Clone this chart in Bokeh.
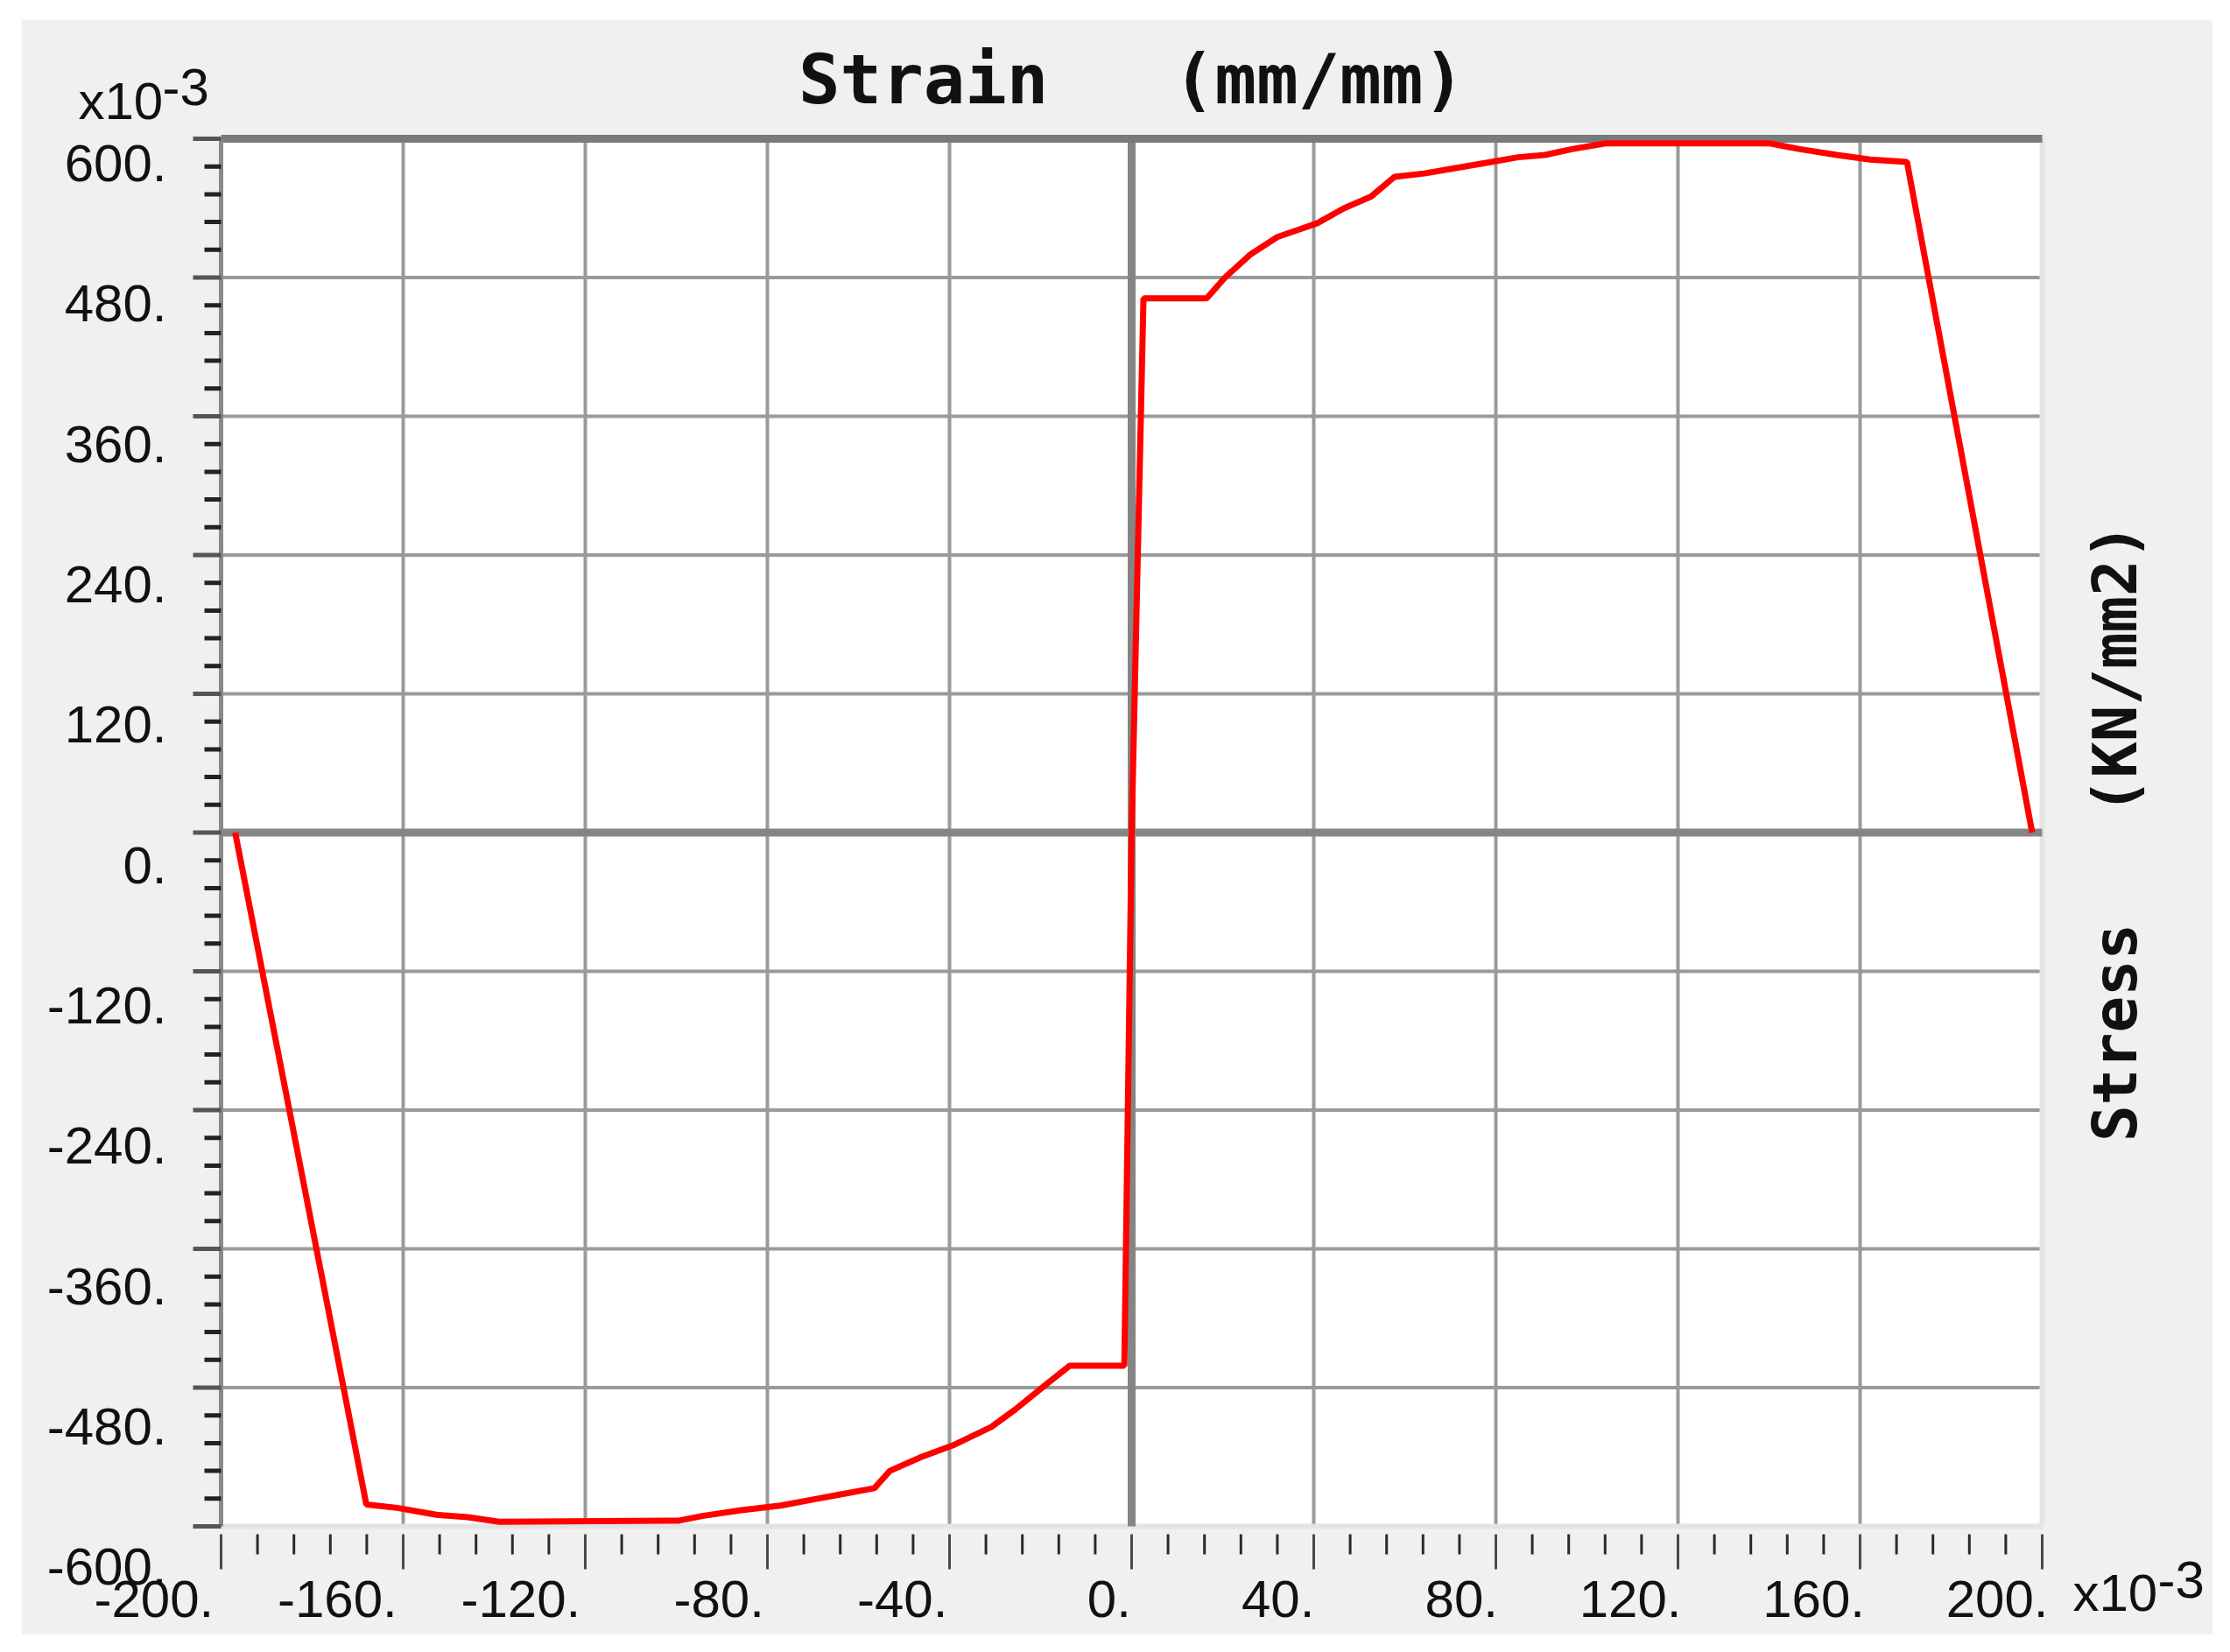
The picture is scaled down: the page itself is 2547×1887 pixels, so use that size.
import numpy as np
from bokeh.plotting import figure
from bokeh.models import Range1d
from bokeh.core.properties import value
from bokeh.embed import file_html
from bokeh.resources import INLINE

# ---- data (both axes in units of x10^-3) ----
strain = [-196.9, -168.1, -161.3, -152.7, -145.8, -138.9, -99.4, -94.3, -85.7, -77.1,
          -70.3, -63.4, -56.5, -53.1, -46.2, -39.3, -30.8, -25.6, -18.7, -13.6,
          -1.6, 0.0, 2.6, 16.5, 20.5, 26.1, 32.0, 40.8, 46.7, 52.6,
          57.7, 64.3, 71.7, 77.6, 84.9, 90.8, 96.7, 104.1, 140.1, 146.8,
          154.9, 162.2, 170.3, 197.8]
stress = [0, -581, -584, -590, -592, -596, -595, -591, -586, -582,
          -577, -572, -567, -552, -540, -530, -514, -499, -477, -461,
          -461, 0, 462, 462, 480, 500, 515, 527, 540, 550,
          567, 570, 575, 579, 584, 586, 591, 596, 596, 591,
          586, 582, 580, 0]

x_ticks = [-200, -160, -120, -80, -40, 0, 40, 80, 120, 160, 200]
x_tick_labels = ["-200.", "-160.", "-120.", "-80.", "-40.", "0.", "40.", "80.", "120.", "160.", "200."]
y_ticks = [600, 480, 360, 240, 120, 0, -120, -240, -360, -480, -600]
y_tick_labels = ["600.", "480.", "360.", "240.", "120.", "0.", "-120.", "-240.", "-360.", "-480.", "-600."]

# no-break spaces keep the wide gaps of the original titles
title_text = "Strain \u00a0 (mm/mm)"
ylabel_text = "Stress \u00a0 (KN/mm2)"
scale_text = "x10"
scale_exp = "-3"

XMIN, XMAX = min(x_ticks), max(x_ticks)
YMIN, YMAX = min(y_ticks), max(y_ticks)

# ---- layout geometry (pixels inside the figure) ----
W, H = 2503, 1845
L, R, T, B = 228, 2308, 136, 1721
px_x = (R - L) / (XMAX - XMIN)
px_y = (B - T) / (YMAX - YMIN)

x_range = Range1d(XMIN - L / px_x, XMAX + (W - R) / px_x)
y_range = Range1d(YMIN - (H - B) / px_y, YMAX + T / px_y)

p = figure(width=W, height=H, x_range=x_range, y_range=y_range,
           output_backend="svg", toolbar_location=None,
           x_axis_location=None, y_axis_location=None,
           min_border=0, background_fill_color="#f0f0f0", border_fill_color="#f0f0f0",
           outline_line_color=None)
p.grid.visible = False
p.margin = (22, 0, 0, 24)

# label placement scales of the original software (slightly wider than grid)
ylab_top, ylab_scale = 164, 1.3361     # centre of top label, px per unit
xlab_left, xlab_scale = 219.7, 5.2383  # right edge of leftmost label, px per unit
p.extra_y_ranges = {"ylab": Range1d(YMAX - (H - ylab_top) / ylab_scale, YMAX + ylab_top / ylab_scale)}
p.extra_x_ranges = {"xlab": Range1d(XMIN - xlab_left / xlab_scale, XMIN + (W - xlab_left) / xlab_scale)}

# ---- plot area ----
p.quad(left=[XMIN], right=[XMAX], bottom=[YMIN], top=[YMAX], fill_color="white", line_color=None)

x_in = [t for t in x_ticks if XMIN < t < XMAX]
y_in = [t for t in y_ticks if YMIN < t < YMAX]
p.segment(x0=x_in, x1=x_in, y0=[YMIN] * len(x_in), y1=[YMAX] * len(x_in),
          line_color="#9a9a9a", line_width=4)
p.segment(x0=[XMIN] * len(y_in), x1=[XMAX] * len(y_in), y0=y_in, y1=y_in,
          line_color="#9a9a9a", line_width=4)

# frame borders: light right/bottom, dark left/top
p.segment(x0=[XMAX, XMIN], x1=[XMAX, XMAX], y0=[YMIN, YMIN], y1=[YMAX, YMIN],
          line_color="#e4e4e4", line_width=6)
# zero axes
p.segment(x0=[0, XMIN], x1=[0, XMAX], y0=[YMIN, 0], y1=[YMAX, 0],
          line_color="#858585", line_width=9)
p.segment(x0=[XMIN], x1=[XMAX], y0=[YMAX], y1=[YMAX], line_color="#7a7a7a", line_width=9)
p.segment(x0=[XMIN], x1=[XMIN], y0=[YMIN], y1=[YMAX], line_color="#8a8a8a", line_width=5)

# ---- curve ----
p.line(strain, stress, line_color="#ff0000", line_width=7)

# ---- tick marks ----
x_minor = [t for a, b in zip(x_ticks[:-1], x_ticks[1:]) for t in np.linspace(a, b, 6)[1:-1]]
ys = sorted(y_ticks)
y_minor = [t for a, b in zip(ys[:-1], ys[1:]) for t in np.linspace(a, b, 6)[1:-1]]

n = len(y_ticks)
p.segment(x0=[XMIN - 32 / px_x] * n, x1=[XMIN] * n, y0=y_ticks, y1=y_ticks,
          line_color="#555555", line_width=5)
m = len(y_minor)
p.segment(x0=[XMIN - 19 / px_x] * m, x1=[XMIN] * m, y0=y_minor, y1=y_minor,
          line_color="#222222", line_width=5)
n = len(x_ticks)
p.segment(x0=x_ticks, x1=x_ticks, y0=[YMIN - 9 / px_y] * n, y1=[YMIN - 49 / px_y] * n,
          line_color="#4a4a4a", line_width=3)
m = len(x_minor)
p.segment(x0=x_minor, x1=x_minor, y0=[YMIN - 9 / px_y] * m, y1=[YMIN - 32 / px_y] * m,
          line_color="#2a2a2a", line_width=3)

# ---- tick labels ----
TICK_FONT = value("Liberation Sans")
TSIZE = "60px"
p.text(x=[XMIN - 62 / px_x] * len(y_ticks), y=y_ticks, text=y_tick_labels, y_range_name="ylab",
       text_align="right", text_baseline="middle",
       text_font=TICK_FONT, text_font_size=TSIZE, text_color="#111111")
p.text(x=x_ticks, y=[YMIN - 83 / px_y] * len(x_ticks), text=x_tick_labels, x_range_name="xlab",
       text_align="right", text_baseline="middle",
       text_font=TICK_FONT, text_font_size=TSIZE, text_color="#111111")

# ---- scale factor notes (x10^-3) ----
p.text(x=[XMIN - 163 / px_x, XMAX + 35 / px_x], y=[YMAX + 43 / px_y, YMIN - 76 / px_y],
       text=[scale_text, scale_text], text_align="left", text_baseline="middle",
       text_font=TICK_FONT, text_font_size=TSIZE, text_color="#111111")
p.text(x=[XMIN - 67 / px_x, XMAX + 132 / px_x], y=[YMAX + 59 / px_y, YMIN - 61 / px_y],
       text=[scale_exp, scale_exp], text_align="left", text_baseline="middle",
       text_font=TICK_FONT, text_font_size=TSIZE, text_color="#111111")

# ---- titles ----
MONO = value("DejaVu Sans Mono")
p.text(x=[(XMIN + XMAX) / 2], y=[YMAX + 68 / px_y], text=[title_text],
       text_align="center", text_baseline="middle", text_font=MONO,
       text_font_style="bold", text_font_size="79px", text_color="#111111")
p.text(x=[XMAX + 83 / px_x], y=[(YMIN + YMAX) / 2], text=[ylabel_text], angle=np.pi / 2,
       text_align="center", text_baseline="middle", text_font=MONO,
       text_font_style="bold", text_font_size="69px", text_color="#111111")

open("out.html", "w").write(file_html(p, INLINE))
